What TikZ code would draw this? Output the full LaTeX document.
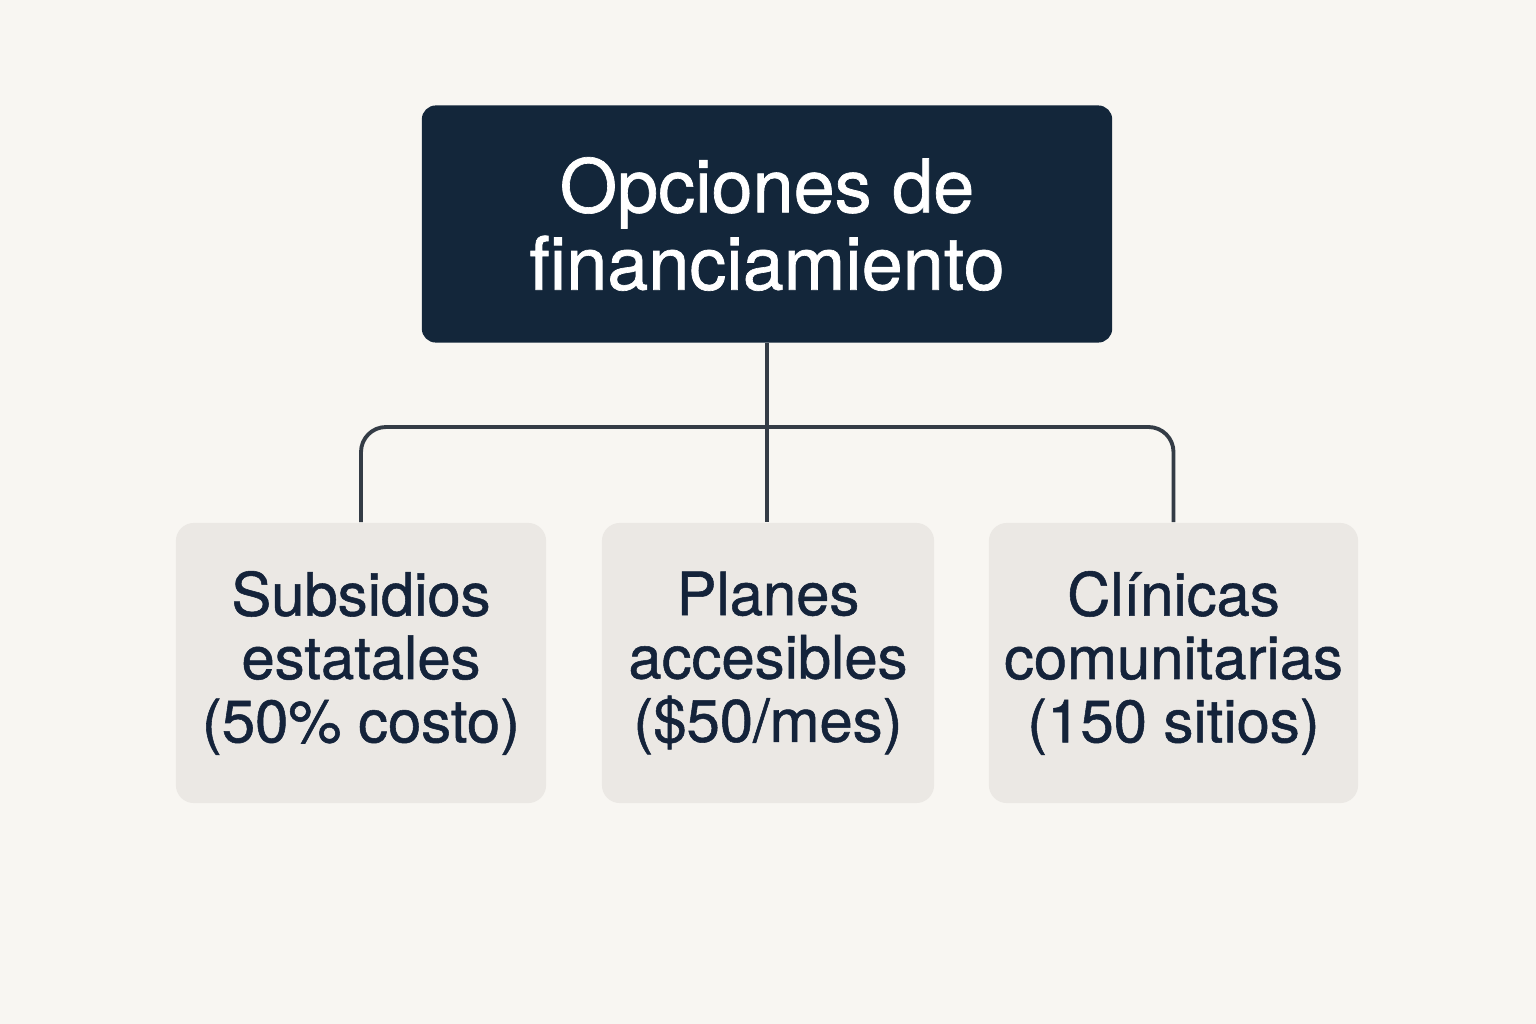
\documentclass[tikz,border=0pt]{standalone}
\usepackage{fontspec}
\setmainfont{TeX Gyre Heros}
\newfontfamily\medfont[FakeBold=0.9]{TeX Gyre Heros}
\usepackage{xcolor}
\usetikzlibrary{calc}
\definecolor{paper}{HTML}{F8F6F2}
\definecolor{navy}{HTML}{13263A}
\definecolor{optfill}{HTML}{EBE8E4}
\definecolor{optink}{HTML}{14233A}
\definecolor{wire}{HTML}{343C46}
\tikzstyle{headbox}=[fill=navy,text=white,rounded corners=0.14cm,align=center,
	font=\medfont\fontsize{21}{22}\selectfont,minimum width=6.9cm,minimum height=2.37cm]
\tikzstyle{optbox}=[fill=optfill,text=optink,rounded corners=0.18cm,align=center,
	font=\medfont\fontsize{17}{18}\selectfont,minimum height=2.8cm]
\tikzstyle{wireline}=[wire,line width=1.1pt,rounded corners=0.25cm]

\begin{document}
\begin{tikzpicture}[x=0.01cm,y=-0.01cm]
		
		% CANVAS
		\fill[paper] (0,0) rectangle (1536,1024);
		\useasboundingbox (0,0) rectangle (1536,1024);
		
		% BOXES
		\node[headbox] (head) at (767,224) {Opciones de\\financiamiento};
		\node[optbox,minimum width=3.7cm] (subs) at (361,663) {Subsidios\\estatales\\(50\% costo)};
		\node[optbox,minimum width=3.32cm] (plan) at (768,663) {Planes\\accesibles\\(\$50/mes)};
		\node[optbox,minimum width=3.69cm] (clin) at (1173.5,663) {Clínicas\\comunitarias\\(150 sitios)};
		
		% CONNECTORS
		\coordinate (bar) at (767,427);
		\draw[wireline] (head.south) -- (head.south |- plan.north);
		\draw[wireline] (subs.north) |- (bar) -| (clin.north);
		
	\end{tikzpicture}
\end{document}
